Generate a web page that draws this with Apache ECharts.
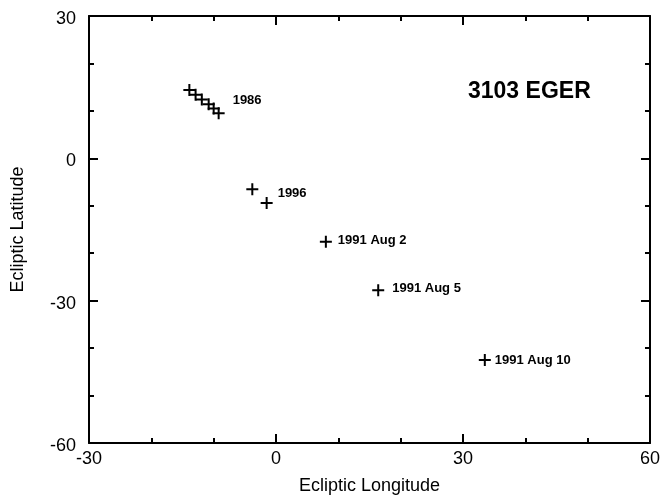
<!DOCTYPE html>
<html>
<head>
<meta charset="utf-8">
<script src="https://cdn.jsdelivr.net/npm/echarts@6/dist/echarts.min.js"></script>
<style>html,body{margin:0;padding:0;background:#fff}#c{width:663px;height:500px}</style>
</head>
<body>
<div id="c"></div>
<script>
// Data
const title = '3103 EGER';
const xName = 'Ecliptic Longitude';
const yName = 'Ecliptic Latitude';
const xTicks = [-30, 0, 30, 60];
const yTicks = [-60, -30, 0, 30];
const pts1986 = [[-13.9, 14.4], [-12.9, 13.4], [-11.9, 12.4], [-10.8, 11.4], [-10.0, 10.5], [-9.2, 9.5]];
const pts1996 = [[-3.8, -6.5], [-1.5, -9.4]];
const pts1991 = [[8.0, -17.6], [16.4, -27.8], [33.5, -42.5]];
const label1986 = '1986';
const label1996 = '1996';
const labels1991 = ['1991 Aug 2', '1991 Aug 5', '1991 Aug 10'];

const FONT = '"Liberation Sans", Arial, sans-serif';
const plus = 'path://M5,0h2v5h5v2h-5v5h-2v-5h-5v-2h5z';
const lblBase = { show: true, position: 'right', color: '#000', fontFamily: FONT, fontWeight: 'bold', fontSize: 13 };

function withLabel(p, text, dist, off) {
  return { value: p, label: Object.assign({}, lblBase, { formatter: text, distance: dist, offset: off }) };
}

const d1986 = pts1986.map((p, i) => i === pts1986.length - 1 ? withLabel(p, label1986, 8, [0, -13]) : { value: p });
const d1996 = pts1996.map((p, i) => i === 1 ? withLabel(p, label1996, 5, [0, -10]) : { value: p });
const lblOpts1991 = [[6, [0, -1]], [8, [0, -2]], [4, [0, 0]]];
const d1991 = pts1991.map((p, i) => withLabel(p, labels1991[i], lblOpts1991[i][0], lblOpts1991[i][1]));

const axisCommon = {
  type: 'value',
  axisLine: { show: true, onZero: false, lineStyle: { color: '#000', width: 2 } },
  axisTick: { show: true, inside: true, length: 9, lineStyle: { color: '#000', width: 2 } },
  minorTick: { show: true, splitNumber: 3, length: 5, lineStyle: { color: '#000', width: 2 } },
  splitLine: { show: false },
  minorSplitLine: { show: false }
};

const sym = { symbol: plus, symbolSize: 12, itemStyle: { color: '#000', opacity: 1 }, emphasis: { disabled: true } };

const chart = echarts.init(document.getElementById('c'));
chart.setOption({
  backgroundColor: '#fff',
  animation: false,
  grid: { left: 89, right: 11, top: 16, bottom: 53 },
  title: {
    text: title, left: 463, top: 75,
    textStyle: { fontFamily: FONT, fontWeight: 'bold', fontSize: 23, color: '#000' }
  },
  xAxis: [
    Object.assign({}, axisCommon, {
      position: 'bottom', min: xTicks[0], max: xTicks[xTicks.length - 1], interval: 30,
      name: xName, nameLocation: 'middle', nameGap: 34,
      nameTextStyle: { fontFamily: FONT, fontSize: 18, color: '#000' },
      axisLabel: { show: true, margin: 7, fontFamily: FONT, fontSize: 18, color: '#000' }
    }),
    Object.assign({}, axisCommon, {
      position: 'top', min: xTicks[0], max: xTicks[xTicks.length - 1], interval: 30,
      axisLabel: { show: false }
    })
  ],
  yAxis: [
    Object.assign({}, axisCommon, {
      position: 'left', min: yTicks[0], max: yTicks[yTicks.length - 1], interval: 30,
      name: yName, nameLocation: 'middle', nameGap: 62, nameRotate: 90,
      nameTextStyle: { fontFamily: FONT, fontSize: 18, color: '#000' },
      axisLabel: {
        show: true, margin: 13, formatter: '{a|{value}}',
        rich: { a: { fontFamily: FONT, fontSize: 18, color: '#000', padding: [6, 0, 0, 0] } }
      }
    }),
    Object.assign({}, axisCommon, {
      position: 'right', min: yTicks[0], max: yTicks[yTicks.length - 1], interval: 30,
      axisLabel: { show: false }
    })
  ],
  series: [
    Object.assign({ type: 'scatter', data: d1986 }, sym),
    Object.assign({ type: 'scatter', data: d1996 }, sym),
    Object.assign({ type: 'scatter', data: d1991 }, sym)
  ]
});
</script>
</body>
</html>
